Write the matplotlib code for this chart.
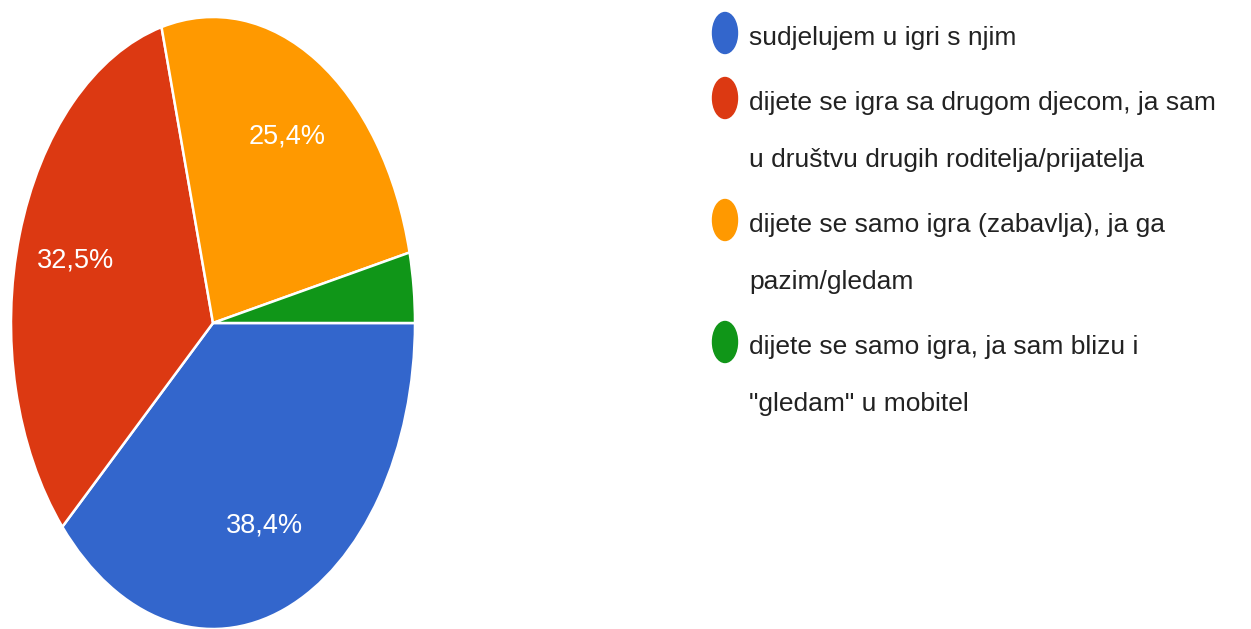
import matplotlib.pyplot as plt
from matplotlib.patches import Ellipse

oznake = ["sudjelujem u igri s njim",
          "dijete se igra sa drugom djecom, ja sam\nu društvu drugih roditelja/prijatelja",
          "dijete se samo igra (zabavlja), ja ga\npazim/gledam",
          "dijete se samo igra, ja sam blizu i\n\"gledam\" u mobitel"]
postoci = [38.4, 32.5, 25.4, 3.7]
boje = ["#3366cc", "#dc3912", "#ff9900", "#109618"]

W, H = 1251, 629
plt.rcParams['font.family'] = ['Liberation Sans', 'DejaVu Sans']
fig = plt.figure(figsize=(W/100, H/100), dpi=100)

# pita je razvucena (elipsa), pa aspect ostaje 'auto'
ax = fig.add_axes([11/W, 0, 404/W, 612/H])
wedges, texts, autotexts = ax.pie(
    postoci, colors=boje, startangle=0, counterclock=False,
    autopct=lambda p: f"{p:.1f}%".replace('.', ',') if p > 5 else "",
    pctdistance=0.71, wedgeprops=dict(edgecolor='white', linewidth=1.8),
    textprops=dict(color='white', fontsize=19.5))
ax.set_aspect('auto')
ax.set_xlim(-1, 1)
ax.set_ylim(-1, 1)

# legenda
y = 45
for lab, c in zip(oznake, boje):
    fig.add_artist(Ellipse((725/W, 1 - (y - 12)/H), 25/W, 41/H,
                           transform=fig.transFigure, color=c))
    for i, red in enumerate(lab.split('\n')):
        fig.text(749/W, 1 - (y + i*57)/H, red, fontsize=19, color='#222222',
                 va='baseline', ha='left')
    y += 65 + 57*(len(lab.split('\n')) - 1)

plt.savefig('out.png', dpi=100)
